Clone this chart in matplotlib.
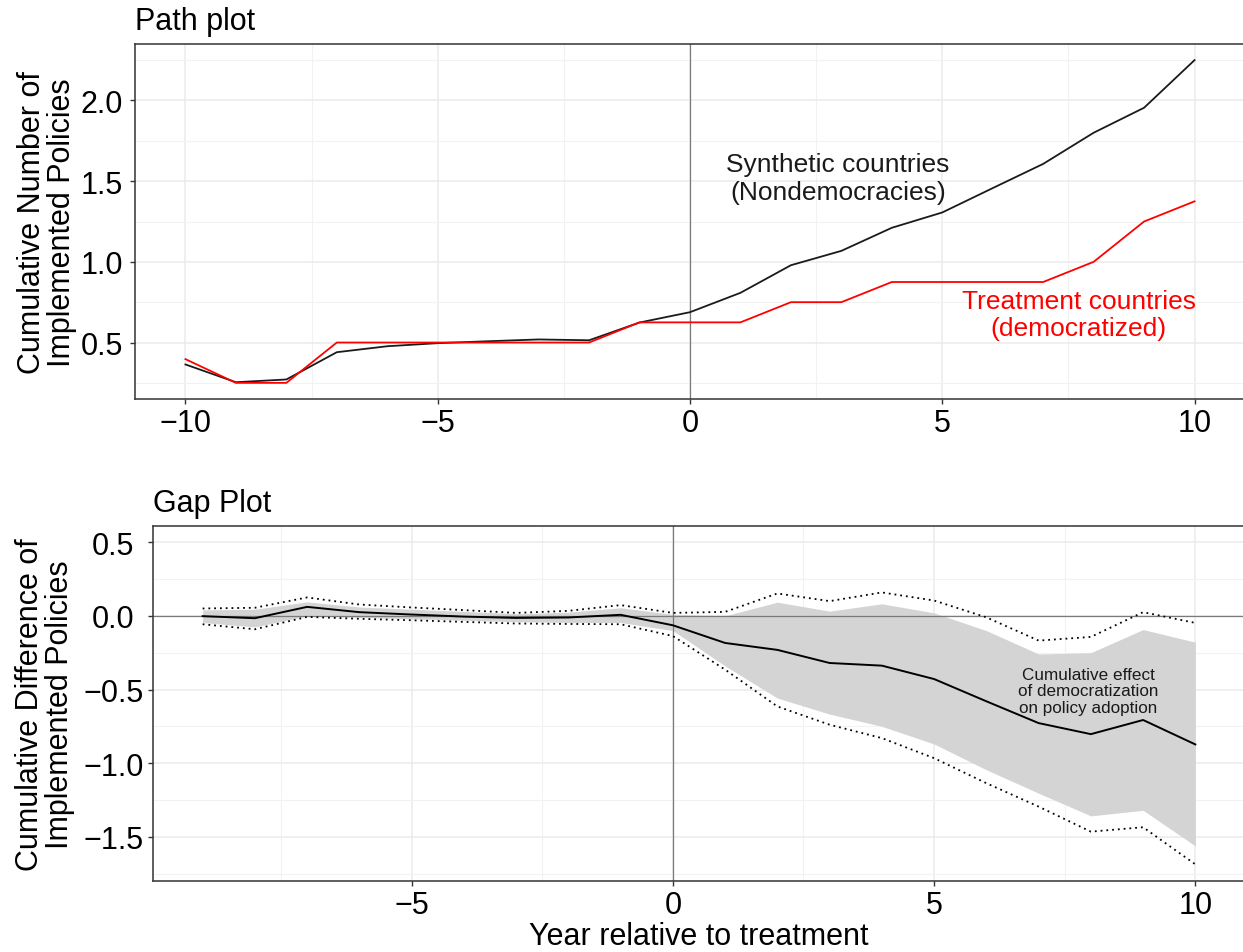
import numpy as np
import matplotlib
matplotlib.use("Agg")
import matplotlib.pyplot as plt

plt.rcParams['font.family'] = ['Liberation Sans', 'DejaVu Sans']

# path plot data
years = [-10, -9, -8, -7, -6, -5, -4, -3, -2, -1, 0, 1, 2, 3, 4, 5, 6, 7, 8, 9, 10]
synthetic = [0.364, 0.254, 0.271, 0.44, 0.477, 0.496, 0.508, 0.519, 0.514, 0.624, 0.688,
             0.808, 0.979, 1.068, 1.211, 1.306, 1.457, 1.607, 1.80, 1.955, 2.25]
treated = [0.397, 0.25, 0.25, 0.5, 0.5, 0.5, 0.5, 0.5, 0.5, 0.625, 0.625,
           0.625, 0.75, 0.75, 0.875, 0.875, 0.875, 0.875, 1.0, 1.25, 1.375]

# gap plot data
gap_years = [-9, -8, -7, -6, -5, -4, -3, -2, -1, 0, 1, 2, 3, 4, 5, 6, 7, 8, 9, 10]
gap = [-0.002, -0.016, 0.061, 0.025, 0.009, -0.005, -0.014, -0.011, 0.007, -0.064,
       -0.184, -0.231, -0.320, -0.338, -0.429, -0.58, -0.728, -0.803, -0.707, -0.873]
ci_hi = [0.05, 0.055, 0.125, 0.077, 0.057, 0.039, 0.02, 0.034, 0.073, 0.02,
         0.027, 0.152, 0.10, 0.159, 0.104, -0.01, -0.168, -0.143, 0.025, -0.048]
ci_lo = [-0.057, -0.091, -0.007, -0.02, -0.03, -0.041, -0.052, -0.055, -0.057, -0.137,
         -0.365, -0.615, -0.739, -0.83, -0.966, -1.136, -1.295, -1.465, -1.435, -1.687]
band_hi = [0.04, 0.045, 0.095, 0.06, 0.045, 0.03, 0.015, 0.025, 0.055, 0.01,
           0.0, 0.093, 0.032, 0.082, 0.02, -0.1, -0.259, -0.25, -0.093, -0.179]
band_lo = [-0.045, -0.075, 0.0, -0.01, -0.02, -0.03, -0.04, -0.045, -0.045, -0.1,
           -0.34, -0.558, -0.667, -0.75, -0.87, -1.045, -1.204, -1.358, -1.32, -1.562]

W, H = 1243, 953
fig = plt.figure(figsize=(W/100, H/100), dpi=100)

def style(ax):
    ax.set_facecolor('white')
    for s in ax.spines.values():
        s.set_color('#333333')
        s.set_linewidth(1.1)
    ax.grid(True, which='major', color='#ebebeb', lw=1.1, zorder=0)
    ax.grid(True, which='minor', color='#f2f2f2', lw=0.8, zorder=0)
    ax.tick_params(which='major', length=3.5, width=1.0, color='#333333',
                   labelsize=22, labelcolor='black', pad=3)
    ax.tick_params(which='minor', length=0)
    ax.set_axisbelow(True)

# top panel
ax1 = fig.add_axes([135/W, 1-400/H, 1110/W, 355/H])
style(ax1)
ax1.tick_params(axis='y', pad=5)
ax1.axvline(0, color='#7a7a7a', lw=0.9, zorder=1)
ax1.plot(years, synthetic, color='#1a1a1a', lw=1.3, zorder=3)
ax1.plot(years, treated, color='#ff0000', lw=1.3, zorder=3)
ax1.set_xlim(-11, 11)
ax1.set_ylim(0.15, 2.35)
ax1.set_xticks([-10, -5, 0, 5, 10])
ax1.set_xticks([-7.5, -2.5, 2.5, 7.5], minor=True)
ax1.set_yticks([0.5, 1.0, 1.5, 2.0])
ax1.set_yticklabels(['0.5', '1.0', '1.5', '2.0'])
ax1.set_yticks([0.25, 0.75, 1.25, 1.75, 2.25], minor=True)
ax1.text(2.93, 1.52, 'Synthetic countries\n(Nondemocracies)', ha='center', va='center',
         fontsize=19, color='#1a1a1a', linespacing=1.17)
ax1.text(7.7, 0.673, 'Treatment countries\n(democratized)', ha='center', va='center',
         fontsize=19, color='#ff0000', linespacing=1.12)
ax1.set_title('Path plot', loc='left', fontsize=22, pad=11)
ax1.set_ylabel('Cumulative Number of\nImplemented Policies', fontsize=22, linespacing=1.0)
ax1.yaxis.set_label_coords((77-135)/1110, 0.5)

# bottom panel
ax2 = fig.add_axes([153/W, 1-882/H, 1092/W, 355/H])
style(ax2)
ax2.fill_between(gap_years, band_lo, band_hi, color='#d4d4d4', lw=0, zorder=1)
ax2.axvline(0, color='#7a7a7a', lw=0.9, zorder=2)
ax2.axhline(0, color='#7a7a7a', lw=0.9, zorder=2)
ax2.plot(gap_years, ci_hi, color='black', lw=1.3, ls=(0, (1, 2.2)), zorder=3)
ax2.plot(gap_years, ci_lo, color='black', lw=1.3, ls=(0, (1, 2.2)), zorder=3)
ax2.plot(gap_years, gap, color='black', lw=1.4, zorder=4)
ax2.set_xlim(-9.95, 10.95)
ax2.set_ylim(-1.80, 0.61)
ax2.set_xticks([-5, 0, 5, 10])
ax2.set_xticks([-7.5, -2.5, 2.5, 7.5], minor=True)
ax2.set_yticks([-1.5, -1.0, -0.5, 0.0, 0.5])
ax2.set_yticklabels(['\u22121.5', '\u22121.0', '\u22120.5', '0.0', '0.5'])
ax2.set_yticks([-1.75, -1.25, -0.75, -0.25, 0.25], minor=True)
# y tick labels are centred in the reference
ax2.tick_params(axis='y', pad=25)
for lab in ax2.get_yticklabels():
    lab.set_horizontalalignment('center')
ax2.text(7.95, -0.51, 'Cumulative effect\nof democratization\non policy adoption',
         ha='center', va='center', fontsize=12.3, color='#1a1a1a', linespacing=1.15)
ax2.set_title('Gap Plot', loc='left', fontsize=22, pad=11)
ax2.set_ylabel('Cumulative Difference of\nImplemented Policies', fontsize=22, linespacing=1.0)
ax2.yaxis.set_label_coords((75-153)/1092, 0.5)
ax2.set_xlabel('Year relative to treatment', fontsize=22, labelpad=0.5)

fig.savefig('out.png', dpi=100, facecolor='white')
